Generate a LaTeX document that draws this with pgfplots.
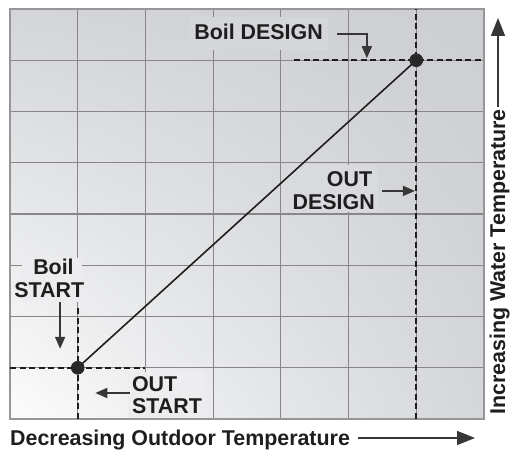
\documentclass[border=0pt]{standalone}
\usepackage{pgfplots}
\pgfplotsset{compat=1.18}
\usepackage{fontspec}
\setmainfont{Liberation Sans}
\usetikzlibrary{arrows.meta,shadings}
\definecolor{gridc}{RGB}{135,135,137}
\definecolor{framec}{RGB}{150,150,152}
\definecolor{bgll}{RGB}{252,252,252}
\definecolor{bgul}{RGB}{211,213,216}
\definecolor{bgur}{RGB}{204,206,209}
\definecolor{bglr}{RGB}{212,214,217}
\definecolor{ink}{RGB}{30,30,30}
\definecolor{arr}{RGB}{55,55,55}
\begin{document}
\begin{tikzpicture}[x=1bp,y=1bp,
  lab/.style={font=\fontsize{21.4bp}{23bp}\selectfont\bfseries, text=ink, inner sep=0pt},
  sarr/.style={arr, line width=1.7bp, -{Triangle[length=12bp,width=10bp]}},
  barr/.style={arr, line width=1.7bp, -{Triangle[length=18bp,width=14bp]}}]
\useasboundingbox (0,0) rectangle (510,450);
\begin{axis}[at={(10bp,31bp)}, anchor=south west, scale only axis,
  width=474bp, height=410bp,
  xmin=0, xmax=7, ymin=0, ymax=8,
  xtick={1,2,3,4,5,6}, ytick={1,2,3,4,5,6,7},
  xticklabels={}, yticklabels={}, major tick length=0pt,
  grid=major, grid style={gridc, line width=1.1bp},
  axis line style={framec, line width=1.5bp},
  axis background/.style={shading=bilinear interpolation, lower left=bgll, upper left=bgul, upper right=bgur, lower right=bglr},
  clip=false]
% label backgrounds
\fill[color={rgb,255:red,212;green,214;blue,217}] (axis cs:2.66,7.20) rectangle (axis cs:4.70,7.84);
\fill[color={rgb,255:red,216;green,218;blue,221}] (axis cs:4.14,4.03) rectangle (axis cs:5.44,4.96);
\fill[color={rgb,255:red,236;green,236;blue,238}] (axis cs:0.18,2.28) rectangle (axis cs:1.06,3.14);
\fill[color={rgb,255:red,237;green,237;blue,239}] (axis cs:1.74,0.02) rectangle (axis cs:2.88,0.92);
% dashed guide lines
\addplot[ink, line width=1.8bp, dash pattern=on 6bp off 3.5bp] coordinates {(0,1) (2,1)};
\addplot[ink, line width=1.8bp, dash pattern=on 6bp off 3.5bp] coordinates {(1,0) (1,2.17)};
\addplot[ink, line width=1.8bp, dash pattern=on 6bp off 3.5bp] coordinates {(4.2,7) (7,7)};
\addplot[ink, line width=1.8bp, dash pattern=on 6bp off 3.5bp] coordinates {(6,0) (6,8)};
% reset curve
\addplot[ink, line width=1.6bp, mark=*, mark size=6bp, mark options={solid, fill={rgb,255:red,40;green,40;blue,40}, draw={rgb,255:red,40;green,40;blue,40}}] coordinates {(1,1) (6,7)};
% labels
\node[lab, anchor=base] at (axis cs:3.67,7.395) {Boil DESIGN};
\draw[sarr] (axis cs:4.83,7.51) -- (axis cs:5.27,7.51) -- (axis cs:5.27,7.04);
\node[lab, anchor=base east] at (axis cs:5.35,4.546) {OUT};
\node[lab, anchor=base east] at (axis cs:5.39,4.078) {DESIGN};
\draw[sarr] (axis cs:5.49,4.45) -- (axis cs:5.98,4.45);
\node[lab, anchor=base] at (axis cs:0.642,2.81) {Boil};
\node[lab, anchor=base] at (axis cs:0.58,2.38) {START};
\draw[sarr] (axis cs:0.74,2.28) -- (axis cs:0.74,1.37);
\node[lab, anchor=base west] at (axis cs:1.80,0.527) {OUT};
\node[lab, anchor=base west] at (axis cs:1.80,0.098) {START};
\draw[sarr] (axis cs:1.77,0.507) -- (axis cs:1.26,0.507);
\end{axis}
\node[lab, anchor=base west] at (10,4) {Decreasing Outdoor Temperature};
\draw[barr] (358,12) -- (475,12);
\node[lab, anchor=base west, rotate=90] at (505,35) {Increasing Water Temperature};
\draw[barr] (498,343) -- (498,432);
\end{tikzpicture}
\end{document}
